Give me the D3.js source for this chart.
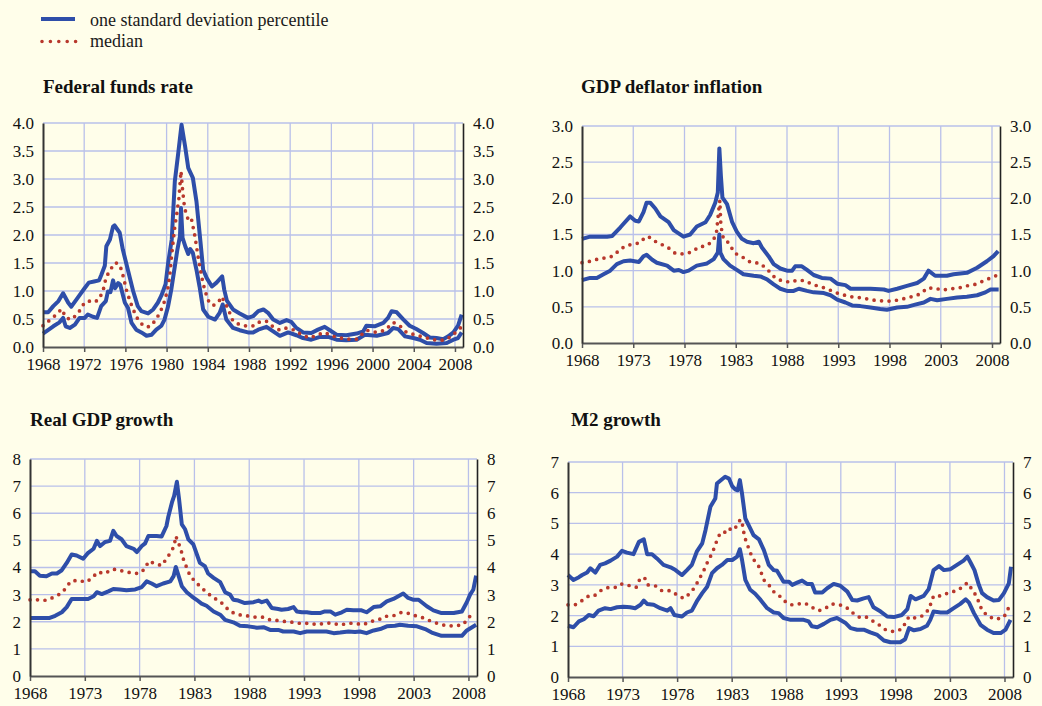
<!DOCTYPE html>
<html>
<head>
<meta charset="utf-8">
<script src="https://cdn.jsdelivr.net/npm/d3@7"></script>
<style>
  body { margin: 0; background: #fffeea; }
</style>
</head>
<body>
<script>
// ---- data ([year, value]) ----

// Federal funds rate
var ffrUpper = [[1968.0,0.62],[1968.5,0.62],[1969.0,0.73],[1969.5,0.82],[1969.95,0.96],[1970.45,0.79],[1970.75,0.72],[1971.45,0.9],[1972.0,1.04],[1972.45,1.15],[1972.95,1.17],[1973.45,1.19],[1973.65,1.28],[1974.0,1.45],[1974.15,1.8],[1974.5,1.92],[1974.8,2.15],[1974.95,2.17],[1975.45,2.04],[1975.75,1.74],[1976.4,1.26],[1976.75,1.0],[1977.2,0.73],[1977.55,0.64],[1978.2,0.6],[1978.7,0.67],[1979.15,0.79],[1979.5,0.92],[1979.9,1.12],[1980.15,1.5],[1980.5,1.92],[1980.8,2.96],[1981.15,3.49],[1981.45,3.97],[1981.8,3.58],[1982.1,3.2],[1982.55,3.02],[1982.9,2.6],[1983.25,1.95],[1983.55,1.38],[1983.9,1.23],[1984.4,1.08],[1984.85,1.15],[1985.4,1.26],[1985.6,1.02],[1985.85,0.83],[1986.45,0.67],[1987.1,0.6],[1987.9,0.52],[1988.4,0.55],[1988.9,0.64],[1989.4,0.67],[1989.85,0.61],[1990.35,0.49],[1991.0,0.43],[1991.65,0.48],[1992.1,0.45],[1992.6,0.34],[1993.25,0.26],[1994.05,0.25],[1994.7,0.31],[1995.35,0.36],[1995.85,0.3],[1996.5,0.22],[1997.45,0.21],[1998.45,0.24],[1999.1,0.28],[1999.4,0.38],[2000.2,0.37],[2001.05,0.43],[2001.5,0.52],[2001.85,0.64],[2002.35,0.62],[2003.0,0.49],[2003.6,0.38],[2004.25,0.32],[2004.9,0.25],[2005.55,0.17],[2006.2,0.16],[2006.85,0.14],[2007.35,0.19],[2007.85,0.26],[2008.3,0.38],[2008.65,0.58]];
var ffrMedian = [[1968.0,0.38],[1968.65,0.48],[1969.3,0.58],[1969.8,0.68],[1970.25,0.52],[1970.75,0.49],[1971.4,0.6],[1972.05,0.8],[1972.55,0.82],[1972.95,0.8],[1973.45,0.85],[1973.85,1.02],[1974.15,1.26],[1974.55,1.37],[1974.85,1.49],[1975.2,1.5],[1975.5,1.44],[1975.75,1.29],[1976.1,1.02],[1976.5,0.79],[1976.9,0.61],[1977.25,0.48],[1977.8,0.37],[1978.35,0.36],[1978.85,0.46],[1979.35,0.61],[1979.75,0.79],[1980.1,1.02],[1980.3,1.26],[1980.55,1.74],[1980.8,2.15],[1981.0,2.39],[1981.2,2.66],[1981.4,3.14],[1981.55,2.81],[1981.75,2.48],[1982.1,2.27],[1982.4,2.3],[1982.75,1.98],[1983.05,1.62],[1983.4,1.26],[1983.7,1.02],[1984.05,0.83],[1984.5,0.74],[1985.0,0.79],[1985.35,0.9],[1985.55,0.83],[1986.0,0.67],[1986.45,0.46],[1987.1,0.4],[1987.9,0.37],[1988.55,0.38],[1989.05,0.45],[1989.7,0.46],[1990.35,0.36],[1991.0,0.3],[1991.65,0.34],[1992.45,0.3],[1993.1,0.22],[1993.9,0.16],[1994.7,0.22],[1995.35,0.26],[1996.0,0.2],[1996.85,0.16],[1997.65,0.14],[1998.45,0.14],[1999.4,0.3],[2000.4,0.26],[2001.2,0.3],[2002.0,0.44],[2002.65,0.38],[2003.3,0.26],[2004.1,0.22],[2004.9,0.18],[2005.9,0.13],[2006.85,0.12],[2007.7,0.19],[2008.15,0.28],[2008.65,0.36]];
var ffrLower = [[1968.0,0.24],[1969.0,0.37],[1969.6,0.44],[1969.95,0.52],[1970.2,0.37],[1970.6,0.34],[1971.1,0.4],[1971.55,0.52],[1972.05,0.52],[1972.35,0.58],[1972.85,0.54],[1973.25,0.52],[1973.65,0.73],[1974.1,0.82],[1974.3,0.99],[1974.55,0.98],[1974.8,1.19],[1975.0,1.05],[1975.3,1.14],[1975.5,1.11],[1975.95,0.79],[1976.25,0.7],[1976.6,0.43],[1977.05,0.31],[1977.55,0.26],[1978.05,0.2],[1978.55,0.22],[1979.0,0.31],[1979.5,0.38],[1979.8,0.49],[1980.15,0.73],[1980.45,1.02],[1980.8,1.44],[1981.05,1.74],[1981.3,1.98],[1981.4,2.48],[1981.55,1.95],[1981.85,1.78],[1982.1,1.66],[1982.3,1.75],[1982.55,1.68],[1982.9,1.38],[1983.2,1.08],[1983.55,0.67],[1984.05,0.54],[1984.7,0.49],[1985.15,0.61],[1985.45,0.76],[1985.8,0.49],[1986.45,0.34],[1987.1,0.3],[1987.9,0.26],[1988.4,0.26],[1988.9,0.31],[1989.7,0.36],[1990.35,0.28],[1991.0,0.2],[1991.8,0.26],[1992.6,0.21],[1993.25,0.16],[1994.05,0.13],[1994.9,0.18],[1995.7,0.18],[1996.5,0.13],[1997.45,0.12],[1998.45,0.13],[1999.25,0.22],[2000.4,0.2],[2001.5,0.25],[2002.0,0.34],[2002.5,0.32],[2003.15,0.19],[2003.95,0.16],[2004.6,0.13],[2005.25,0.07],[2006.2,0.06],[2007.2,0.07],[2007.85,0.13],[2008.3,0.16],[2008.65,0.26]];

// GDP deflator inflation
var defUpper = [[1968.0,1.44],[1968.8,1.47],[1970.45,1.47],[1970.95,1.48],[1971.75,1.6],[1972.7,1.75],[1973.2,1.69],[1973.55,1.68],[1974.0,1.81],[1974.3,1.94],[1974.65,1.94],[1975.15,1.86],[1975.65,1.75],[1976.45,1.67],[1976.95,1.56],[1977.9,1.47],[1978.55,1.5],[1979.2,1.61],[1980.05,1.67],[1980.5,1.77],[1981.0,1.94],[1981.25,2.08],[1981.4,2.69],[1981.55,2.31],[1981.7,2.01],[1982.15,1.92],[1982.65,1.67],[1983.1,1.54],[1983.6,1.44],[1984.1,1.4],[1984.75,1.38],[1985.25,1.4],[1985.55,1.32],[1986.2,1.2],[1986.7,1.09],[1987.35,1.03],[1988.0,1.0],[1988.5,1.0],[1988.8,1.06],[1989.45,1.06],[1989.95,1.01],[1990.6,0.94],[1991.4,0.9],[1992.25,0.89],[1992.9,0.82],[1993.7,0.8],[1994.2,0.75],[1996.15,0.75],[1997.45,0.74],[1997.9,0.72],[1998.75,0.75],[1999.7,0.79],[2000.7,0.83],[2001.35,0.89],[2001.8,1.0],[2002.45,0.93],[2003.6,0.93],[2004.25,0.95],[2005.55,0.97],[2006.55,1.04],[2007.5,1.13],[2008.15,1.2],[2008.6,1.27]];
var defMedian = [[1968.0,1.11],[1968.8,1.13],[1969.8,1.17],[1970.6,1.18],[1971.1,1.21],[1971.75,1.3],[1972.4,1.35],[1973.2,1.37],[1973.7,1.39],[1974.2,1.47],[1974.65,1.46],[1975.3,1.39],[1976.3,1.33],[1977.1,1.24],[1977.9,1.23],[1978.75,1.26],[1979.4,1.33],[1980.05,1.34],[1980.7,1.4],[1981.1,1.5],[1981.35,1.85],[1981.45,1.97],[1981.55,1.62],[1981.8,1.44],[1982.15,1.41],[1982.95,1.24],[1983.75,1.18],[1984.4,1.12],[1985.4,1.1],[1986.2,1.0],[1986.85,0.9],[1987.5,0.86],[1988.35,0.84],[1989.0,0.87],[1989.8,0.86],[1990.45,0.81],[1991.25,0.78],[1991.9,0.75],[1992.7,0.7],[1993.35,0.67],[1994.2,0.64],[1995.0,0.63],[1995.8,0.61],[1996.6,0.59],[1997.45,0.58],[1998.25,0.58],[1999.05,0.6],[1999.85,0.63],[2000.5,0.65],[2001.15,0.69],[2001.65,0.76],[2002.45,0.76],[2003.1,0.73],[2003.95,0.75],[2004.75,0.76],[2005.55,0.79],[2006.35,0.81],[2007.2,0.86],[2007.85,0.9],[2008.55,0.94]];
var defLower = [[1968.0,0.87],[1968.8,0.9],[1969.45,0.9],[1970.1,0.95],[1970.75,1.0],[1971.4,1.09],[1972.05,1.13],[1972.7,1.14],[1973.55,1.12],[1974.0,1.2],[1974.3,1.22],[1974.85,1.15],[1975.3,1.11],[1976.3,1.07],[1976.95,1.0],[1977.45,1.01],[1977.9,0.98],[1978.4,1.0],[1979.2,1.07],[1980.2,1.1],[1980.85,1.16],[1981.25,1.25],[1981.4,1.5],[1981.5,1.25],[1981.8,1.16],[1982.45,1.07],[1983.1,1.01],[1983.75,0.95],[1984.75,0.93],[1985.4,0.92],[1986.05,0.88],[1986.7,0.81],[1987.35,0.75],[1988.0,0.72],[1988.65,0.72],[1989.15,0.75],[1989.95,0.72],[1990.6,0.7],[1991.6,0.69],[1992.25,0.66],[1992.9,0.6],[1993.7,0.56],[1994.35,0.52],[1995.15,0.51],[1996.15,0.49],[1997.1,0.47],[1997.75,0.46],[1998.75,0.49],[1999.7,0.5],[2000.5,0.53],[2001.35,0.56],[2002.0,0.61],[2002.65,0.59],[2003.6,0.61],[2004.6,0.63],[2005.55,0.64],[2006.55,0.66],[2007.35,0.7],[2007.85,0.74],[2008.65,0.74]];

// Real GDP growth
var gdpUpper = [[1968.0,3.86],[1968.45,3.86],[1968.9,3.7],[1969.5,3.68],[1970.0,3.78],[1970.45,3.78],[1970.9,3.9],[1971.35,4.17],[1971.8,4.48],[1972.25,4.44],[1972.85,4.32],[1973.25,4.52],[1973.8,4.69],[1974.1,4.98],[1974.4,4.79],[1974.85,4.94],[1975.3,4.98],[1975.6,5.35],[1975.9,5.16],[1976.35,5.04],[1976.8,4.79],[1977.45,4.69],[1977.75,4.57],[1978.2,4.79],[1978.5,4.89],[1978.8,5.16],[1979.55,5.16],[1980.0,5.14],[1980.45,5.53],[1980.6,5.84],[1980.95,6.4],[1981.15,6.64],[1981.4,7.16],[1981.6,6.52],[1981.85,5.59],[1982.15,5.41],[1982.45,5.04],[1982.9,4.85],[1983.5,4.17],[1983.95,4.05],[1984.25,3.78],[1984.75,3.62],[1985.35,3.46],[1985.8,3.09],[1986.25,3.0],[1986.55,2.81],[1987.0,2.78],[1987.6,2.69],[1988.4,2.72],[1988.85,2.78],[1989.15,2.72],[1989.6,2.78],[1990.05,2.51],[1990.65,2.47],[1990.95,2.44],[1991.55,2.47],[1992.05,2.54],[1992.35,2.38],[1992.8,2.35],[1993.25,2.35],[1993.7,2.32],[1994.45,2.32],[1994.9,2.38],[1995.4,2.38],[1995.85,2.26],[1996.45,2.35],[1996.9,2.44],[1997.5,2.42],[1998.25,2.42],[1998.7,2.35],[1999.35,2.54],[1999.95,2.57],[2000.55,2.75],[2001.15,2.84],[2001.6,2.94],[2002.05,3.04],[2002.5,2.88],[2003.0,2.81],[2003.45,2.81],[2004.2,2.57],[2004.8,2.42],[2005.55,2.32],[2006.65,2.32],[2007.4,2.38],[2007.85,2.72],[2008.15,3.0],[2008.45,3.19],[2008.7,3.7]];
var gdpMedian = [[1968.0,2.81],[1968.75,2.81],[1969.45,2.79],[1970.2,2.91],[1970.9,3.06],[1971.35,3.28],[1971.7,3.49],[1972.4,3.53],[1973.1,3.46],[1973.7,3.62],[1974.15,3.83],[1974.85,3.78],[1975.45,3.93],[1975.95,3.93],[1976.5,3.86],[1977.3,3.8],[1977.9,3.78],[1978.5,3.95],[1978.8,4.23],[1979.4,4.15],[1980.0,4.07],[1980.45,4.32],[1980.85,4.57],[1981.15,4.79],[1981.3,5.16],[1981.6,4.85],[1981.85,4.54],[1982.0,4.3],[1982.3,3.99],[1982.6,3.7],[1983.05,3.49],[1983.5,3.31],[1984.1,3.09],[1984.75,2.88],[1985.35,2.75],[1986.25,2.38],[1987.0,2.26],[1987.75,2.22],[1988.55,2.17],[1989.3,2.17],[1989.9,2.07],[1990.5,2.05],[1991.25,2.01],[1992.05,1.98],[1992.8,1.93],[1993.55,1.95],[1994.15,1.89],[1994.9,1.95],[1995.55,1.95],[1996.3,1.88],[1997.05,1.95],[1997.8,1.93],[1998.4,1.89],[1999.05,2.01],[1999.8,2.07],[2000.4,2.2],[2001.15,2.22],[2001.9,2.35],[2002.7,2.3],[2003.3,2.2],[2003.9,2.14],[2004.65,2.01],[2005.25,1.93],[2006.0,1.85],[2006.8,1.85],[2007.5,1.89],[2008.0,2.14],[2008.45,2.35]];
var gdpLower = [[1968.0,2.14],[1969.8,2.14],[1970.3,2.22],[1970.9,2.35],[1971.35,2.54],[1971.8,2.84],[1972.55,2.84],[1973.3,2.84],[1973.8,2.94],[1974.1,3.09],[1974.55,3.02],[1975.15,3.12],[1975.6,3.21],[1976.2,3.19],[1976.8,3.16],[1977.6,3.19],[1978.2,3.28],[1978.65,3.49],[1979.1,3.41],[1979.55,3.31],[1980.15,3.41],[1980.8,3.49],[1981.1,3.68],[1981.3,4.02],[1981.55,3.7],[1981.85,3.31],[1982.3,3.09],[1982.75,2.94],[1983.2,2.81],[1983.65,2.67],[1984.1,2.59],[1984.75,2.38],[1985.35,2.26],[1985.8,2.07],[1986.55,1.98],[1987.15,1.85],[1987.9,1.83],[1988.7,1.78],[1989.3,1.8],[1989.9,1.7],[1990.65,1.7],[1991.1,1.64],[1992.05,1.64],[1992.65,1.58],[1993.25,1.64],[1995.05,1.64],[1995.7,1.58],[1996.3,1.6],[1997.05,1.64],[1997.65,1.62],[1998.1,1.64],[1998.7,1.58],[1999.35,1.68],[1999.95,1.73],[2000.55,1.83],[2001.3,1.85],[2001.75,1.89],[2002.5,1.85],[2003.3,1.83],[2004.05,1.73],[2004.65,1.6],[2005.55,1.48],[2006.5,1.48],[2007.4,1.48],[2007.85,1.68],[2008.7,1.89]];

// M2 growth
var m2Upper = [[1968.0,3.32],[1968.5,3.16],[1969.0,3.25],[1969.3,3.32],[1969.75,3.4],[1970.05,3.54],[1970.5,3.4],[1970.95,3.65],[1971.4,3.7],[1971.9,3.79],[1972.5,3.92],[1972.95,4.11],[1973.4,4.05],[1974.0,4.0],[1974.5,4.4],[1974.95,4.48],[1975.25,4.0],[1975.7,4.0],[1976.15,3.86],[1976.75,3.65],[1977.4,3.57],[1977.85,3.48],[1978.45,3.32],[1978.9,3.48],[1979.35,3.65],[1979.8,4.08],[1980.3,4.35],[1980.6,4.78],[1981.05,5.54],[1981.5,5.81],[1981.65,6.3],[1981.95,6.39],[1982.4,6.52],[1982.75,6.46],[1983.05,6.21],[1983.35,6.1],[1983.55,6.08],[1983.75,6.41],[1983.95,5.97],[1984.25,5.16],[1984.7,4.84],[1985.0,4.62],[1985.5,4.48],[1985.95,4.13],[1986.4,3.65],[1986.85,3.48],[1987.15,3.46],[1987.75,3.1],[1988.25,3.1],[1988.55,3.0],[1989.0,3.07],[1989.45,3.14],[1989.9,3.03],[1990.35,3.03],[1990.65,2.75],[1991.3,2.75],[1991.75,2.89],[1992.35,3.03],[1992.95,2.97],[1993.6,2.78],[1994.05,2.51],[1994.5,2.49],[1995.1,2.56],[1995.55,2.6],[1996.0,2.27],[1996.65,2.13],[1997.25,1.97],[1997.85,1.95],[1998.6,2.02],[1999.1,2.21],[1999.4,2.64],[1999.85,2.53],[2000.6,2.64],[2001.05,2.86],[2001.5,3.48],[2002.0,3.61],[2002.45,3.48],[2003.05,3.51],[2003.65,3.65],[2004.25,3.79],[2004.6,3.92],[2004.9,3.72],[2005.25,3.48],[2005.65,3.0],[2005.95,2.73],[2006.4,2.6],[2007.0,2.49],[2007.5,2.51],[2007.95,2.73],[2008.4,3.05],[2008.6,3.59]];
var m2Median = [[1968.0,2.35],[1968.65,2.35],[1969.3,2.49],[1969.9,2.64],[1970.4,2.64],[1971.1,2.84],[1971.75,2.92],[1972.5,2.92],[1972.95,3.03],[1973.7,2.97],[1974.25,2.92],[1974.55,3.16],[1975.0,3.25],[1975.3,3.0],[1976.0,2.97],[1976.6,2.81],[1977.4,2.81],[1978.0,2.67],[1978.6,2.56],[1979.2,2.73],[1979.65,2.94],[1980.0,3.18],[1980.4,3.43],[1980.7,3.68],[1981.05,3.92],[1981.35,4.16],[1981.6,4.4],[1981.9,4.65],[1982.25,4.65],[1982.6,4.84],[1983.2,4.78],[1983.55,4.98],[1983.8,5.13],[1984.05,4.89],[1984.15,4.59],[1984.4,4.35],[1984.7,4.05],[1985.0,3.83],[1985.5,3.59],[1985.95,3.16],[1986.4,3.0],[1986.85,2.78],[1987.45,2.62],[1987.9,2.46],[1988.45,2.35],[1989.15,2.38],[1989.75,2.4],[1990.35,2.27],[1991.0,2.16],[1991.6,2.24],[1992.2,2.38],[1992.9,2.35],[1993.5,2.27],[1994.05,2.1],[1994.65,1.95],[1995.25,1.97],[1995.85,1.84],[1996.5,1.7],[1997.1,1.54],[1997.85,1.48],[1998.6,1.56],[1999.25,1.97],[1999.85,1.92],[2000.45,1.99],[2001.05,2.19],[2001.5,2.64],[2002.2,2.64],[2002.9,2.75],[2003.65,2.81],[2004.1,2.92],[2004.6,3.07],[2005.05,2.84],[2005.45,2.62],[2005.95,2.16],[2006.55,1.97],[2007.2,1.88],[2007.95,1.95],[2008.3,2.19],[2008.55,2.42]];
var m2Lower = [[1968.0,1.67],[1968.5,1.62],[1969.0,1.81],[1969.45,1.88],[1969.9,2.02],[1970.35,1.98],[1970.8,2.16],[1971.4,2.24],[1971.9,2.21],[1972.5,2.27],[1973.1,2.29],[1973.7,2.27],[1974.15,2.24],[1974.65,2.35],[1974.95,2.49],[1975.25,2.38],[1975.85,2.35],[1976.45,2.24],[1977.1,2.16],[1977.4,2.24],[1977.75,2.02],[1978.45,1.97],[1978.9,2.1],[1979.35,2.16],[1979.8,2.46],[1980.3,2.73],[1980.75,2.94],[1981.2,3.38],[1981.65,3.54],[1982.1,3.65],[1982.6,3.81],[1983.05,3.81],[1983.5,3.92],[1983.75,4.16],[1983.95,3.81],[1984.25,3.16],[1984.7,2.84],[1985.15,2.71],[1985.65,2.51],[1986.25,2.24],[1986.85,2.1],[1987.3,2.08],[1987.75,1.92],[1988.4,1.86],[1989.6,1.86],[1990.05,1.81],[1990.35,1.65],[1990.85,1.62],[1991.45,1.73],[1992.05,1.86],[1992.65,1.92],[1993.4,1.77],[1993.9,1.59],[1994.5,1.54],[1995.1,1.54],[1995.7,1.45],[1996.35,1.37],[1996.95,1.19],[1997.55,1.13],[1998.45,1.13],[1998.9,1.23],[1999.25,1.59],[1999.7,1.52],[2000.3,1.56],[2000.9,1.67],[2001.2,1.86],[2001.5,2.13],[2002.15,2.1],[2002.75,2.1],[2003.35,2.24],[2003.95,2.38],[2004.45,2.53],[2004.75,2.42],[2005.2,2.08],[2005.8,1.7],[2006.4,1.54],[2007.0,1.43],[2007.65,1.43],[2008.1,1.54],[2008.55,1.86]];

// axis ticks
var ticksFourYear = d3.range(1968, 2009, 4);
var ticksFiveYear = d3.range(1968, 2009, 5);
var xDomain = [1968, 2008.78];

var legendLabels = ["one standard deviation percentile", "median"];

// ---- layout ----
var blue = "#2e4ea9",
    red = "#b8382c",
    grid = "#b9c0ea",
    serif = "'Liberation Serif'";

var panels = [
  { title: "Federal funds rate", left: 43, top: 123, width: 420, height: 224, titleX: 43, titleY: 93,
    yMax: 4, yStep: 0.5, fmt: ".1f", xTicks: ticksFourYear,
    upper: ffrUpper, median: ffrMedian, lower: ffrLower },
  { title: "GDP deflator inflation", left: 582, top: 126, width: 418, height: 217, titleX: 581, titleY: 93,
    yMax: 3, yStep: 0.5, fmt: ".1f", xTicks: ticksFiveYear,
    upper: defUpper, median: defMedian, lower: defLower },
  { title: "Real GDP growth", left: 30, top: 459, width: 447, height: 217, titleX: 30, titleY: 426,
    yMax: 8, yStep: 1, fmt: "d", xTicks: ticksFiveYear,
    upper: gdpUpper, median: gdpMedian, lower: gdpLower },
  { title: "M2 growth", left: 568, top: 462, width: 445, height: 215, titleX: 571, titleY: 426,
    yMax: 7, yStep: 1, fmt: "d", xTicks: ticksFiveYear,
    upper: m2Upper, median: m2Median, lower: m2Lower }
];

var svg = d3.select("body")
  .append("svg")
  .attr("width", 1042)
  .attr("height", 706);

svg.append("rect")
  .attr("width", 1042)
  .attr("height", 706)
  .attr("fill", "#fffeea");

// ---- legend ----
var legend = svg.append("g").attr("transform", "translate(41,0)");
legend.append("line")
  .attr("x1", 0).attr("x2", 34).attr("y1", 19).attr("y2", 19)
  .attr("stroke", blue).attr("stroke-width", 4);
legend.append("line")
  .attr("x1", 1).attr("x2", 35).attr("y1", 41.5).attr("y2", 41.5)
  .attr("stroke", red).attr("stroke-width", 3.6)
  .attr("stroke-linecap", "round")
  .attr("stroke-dasharray", "0,8.4");
legend.selectAll("text.lab")
  .data(legendLabels)
  .enter()
  .append("text")
  .attr("class", "lab")
  .attr("x", 49)
  .attr("y", function(d, i) { return 26 + i * 21; })
  .style("font-family", serif)
  .style("font-size", "18px")
  .attr("fill", "#1a1a1a")
  .text(function(d) { return d; });

// ---- panels ----
panels.forEach(function(p) {
  var g = svg.append("g")
    .attr("transform", "translate(" + p.left + "," + p.top + ")");

  var x = d3.scaleLinear().domain(xDomain).range([0, p.width]);
  var y = d3.scaleLinear().domain([0, p.yMax]).range([p.height, 0]);
  var yTicks = d3.range(0, p.yMax + 1e-9, p.yStep);

  // title
  svg.append("text")
    .attr("x", p.titleX)
    .attr("y", p.titleY)
    .style("font-family", serif)
    .style("font-size", "19px")
    .style("font-weight", "bold")
    .attr("fill", "#111")
    .text(p.title);

  // gridlines
  g.append("g")
    .selectAll("line")
    .data(yTicks.filter(function(d) { return d > 0; }))
    .enter()
    .append("line")
    .attr("x1", 0).attr("x2", p.width)
    .attr("y1", function(d) { return y(d); })
    .attr("y2", function(d) { return y(d); })
    .attr("stroke", grid).attr("stroke-width", 1.3);
  g.append("g")
    .selectAll("line")
    .data(p.xTicks.filter(function(d) { return d > 1968; }))
    .enter()
    .append("line")
    .attr("x1", function(d) { return x(d); })
    .attr("x2", function(d) { return x(d); })
    .attr("y1", 0).attr("y2", p.height)
    .attr("stroke", grid).attr("stroke-width", 1.3);

  // series
  var line = d3.line()
    .x(function(d) { return x(d[0]); })
    .y(function(d) { return y(d[1]); });

  [p.upper, p.lower].forEach(function(s) {
    g.append("path")
      .datum(s)
      .attr("d", line)
      .attr("fill", "none")
      .attr("stroke", blue)
      .attr("stroke-width", 4)
      .attr("stroke-linejoin", "round");
  });
  g.append("path")
    .datum(p.median)
    .attr("d", line)
    .attr("fill", "none")
    .attr("stroke", red)
    .attr("stroke-width", 3.7)
    .attr("stroke-linecap", "round")
    .attr("stroke-dasharray", "0,7.5");

  // bottom axis
  var xAxis = g.append("g")
    .attr("transform", "translate(0," + p.height + ")")
    .call(d3.axisBottom(x).tickValues(p.xTicks).tickFormat(d3.format("d")).tickSize(5).tickSizeOuter(0).tickPadding(6));
  xAxis.select(".domain").attr("stroke", "#555").attr("stroke-width", 2);
  xAxis.selectAll(".tick line").attr("stroke", "#555").attr("stroke-width", 1.5);

  // left axis
  var fmt = d3.format(p.fmt);
  var yLeft = g.append("g")
    .call(d3.axisLeft(y).tickValues(yTicks).tickFormat(fmt).tickSize(0).tickPadding(9));
  yLeft.select(".domain").attr("stroke", "#333").attr("stroke-width", 2);

  // right axis
  var yRight = g.append("g")
    .attr("transform", "translate(" + p.width + ",0)")
    .call(d3.axisRight(y).tickValues(yTicks).tickFormat(fmt).tickSize(0).tickPadding(10));
  yRight.select(".domain").attr("stroke", "#222").attr("stroke-width", 1.6);

  [xAxis, yLeft, yRight].forEach(function(ax) {
    ax.attr("font-family", null).attr("font-size", null);
    ax.selectAll("text")
      .style("font-family", serif)
      .style("font-size", "17px")
      .attr("fill", "#111");
  });
});
</script>
</body>
</html>
